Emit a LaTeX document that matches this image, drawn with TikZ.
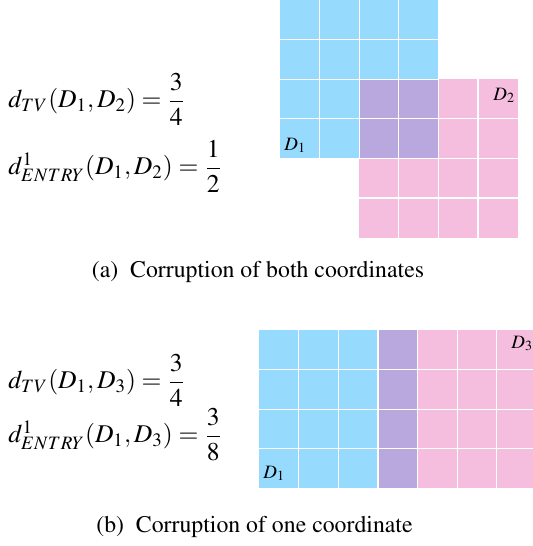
\documentclass[tikz,border=0pt]{standalone}
\usepackage[T1]{fontenc}
\usepackage{mathptmx}

\definecolor{cellblue}{RGB}{150,218,253}
\definecolor{cellpink}{RGB}{245,190,222}
\definecolor{cellpurple}{RGB}{185,168,222}

\begin{document}
\begin{tikzpicture}[
    x=0.45pt, y=-0.45pt,
    eqn/.style={anchor=base west, inner sep=0pt, font=\fontsize{11.5}{14}\selectfont},
    capt/.style={anchor=base, inner sep=0pt, font=\fontsize{10.7}{13}\selectfont},
    dlabel/.style={anchor=base west, inner sep=0pt, font=\fontsize{8.5}{10}\selectfont},
    gridline/.style={white, line width=0.5pt},
]
    \useasboundingbox (0,0) rectangle (533,546);

    % (a) both coordinates corrupted
    \fill[cellblue] (280,0) rectangle (438.4,158.4);
    \fill[cellpink] (359.2,79.2) rectangle (517.6,237.6);
    \fill[cellpurple] (359.2,79.2) rectangle (438.4,158.4);
    \foreach \k in {1,2,3} {
        \draw[gridline] (280+39.6*\k,0) -- (280+39.6*\k,158.4);
        \draw[gridline] (280,39.6*\k) -- (438.4,39.6*\k);
        \draw[gridline] (359.2+39.6*\k,79.2) -- (359.2+39.6*\k,237.6);
        \draw[gridline] (359.2,79.2+39.6*\k) -- (517.6,79.2+39.6*\k);
    }
    \node[dlabel] (a_d1) at (284,150) {$D_1$};
    \node[dlabel] (a_d2) at (493,100) {$D_2$};

    \node[eqn] (a_tv) at (8,107.5) {$d_{TV}(D_1,D_2)=\displaystyle\frac{3}{4}$};
    \node[eqn] (a_entry) at (8,174.5) {$d^1_{ENTRY}(D_1,D_2)=\displaystyle\frac{1}{2}$};
    \node[capt] (a_cap) at (258,277) {(a)\ \ Corruption of both coordinates};

    % (b) one coordinate corrupted
    \fill[cellblue] (259.2,330) rectangle (378,488.4);
    \fill[cellpurple] (378,330) rectangle (417.6,488.4);
    \fill[cellpink] (417.6,330) rectangle (536.4,488.4);
    \foreach \k in {1,...,6}
        \draw[gridline] (259.2+39.6*\k,330) -- (259.2+39.6*\k,488.4);
    \foreach \k in {1,2,3}
        \draw[gridline] (259.2,330+39.6*\k) -- (536.4,330+39.6*\k);
    \node[dlabel] (b_d1) at (263,478) {$D_1$};
    \node[dlabel] (b_d3) at (511,348) {$D_3$};

    \node[eqn] (b_tv) at (8,388.5) {$d_{TV}(D_1,D_3)=\displaystyle\frac{3}{4}$};
    \node[eqn] (b_entry) at (8,442.5) {$d^1_{ENTRY}(D_1,D_3)=\displaystyle\frac{3}{8}$};
    \node[capt] (b_cap) at (254.5,532) {(b)\ \ Corruption of one coordinate};

\end{tikzpicture}
\end{document}
